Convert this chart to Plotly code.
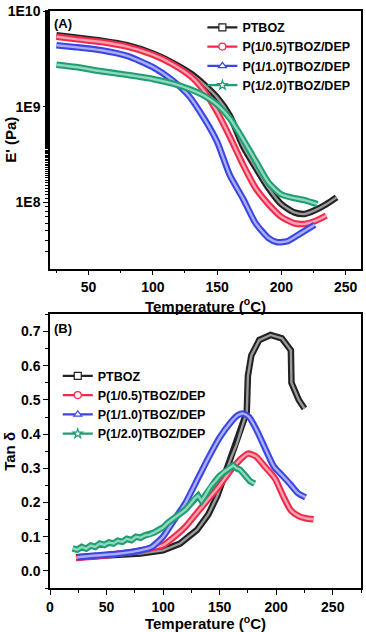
import plotly.graph_objects as go

# ---- data ----
names = ["PTBOZ", "P(1/0.5)TBOZ/DEP", "P(1/1.0)TBOZ/DEP", "P(1/2.0)TBOZ/DEP"]

# (A) storage modulus E' (Pa) vs temperature
a_t_ptboz = [25, 40, 60, 80, 100, 115, 130, 140, 150, 160, 170, 180, 190, 200, 210, 218, 226, 235, 243]
a_e_ptboz = [5.6e9, 5.3e9, 4.9e9, 4.4e9, 3.6e9, 2.9e9, 2.2e9, 1.7e9, 1.25e9, 8.0e8, 3.9e8, 2.3e8,
             1.4e8, 9.5e7, 7.8e7, 7.5e7, 8.2e7, 9.5e7, 1.12e8]
a_t_05 = [25, 40, 60, 80, 100, 115, 130, 140, 150, 160, 170, 180, 190, 200, 210, 218, 226, 235]
a_e_05 = [5.4e9, 5.1e9, 4.75e9, 4.25e9, 3.5e9, 2.8e9, 2.05e9, 1.45e9, 8.8e8, 4.8e8, 2.5e8, 1.4e8,
          9.5e7, 7.0e7, 6.0e7, 5.9e7, 6.3e7, 7.2e7]
a_t_10 = [25, 40, 60, 80, 100, 115, 128, 140, 150, 160, 170, 180, 190, 197, 205, 215, 226]
a_e_10 = [4.4e9, 4.2e9, 3.9e9, 3.4e9, 2.6e9, 1.9e9, 1.3e9, 7.5e8, 4.3e8, 1.9e8, 1.1e8, 6.0e7,
          4.2e7, 3.8e7, 3.9e7, 4.7e7, 5.8e7]
a_t_20 = [25, 40, 60, 80, 100, 115, 130, 140, 150, 160, 170, 180, 190, 200, 210, 218, 228]
a_e_20 = [2.75e9, 2.6e9, 2.35e9, 2.15e9, 1.95e9, 1.75e9, 1.5e9, 1.3e9, 1.05e9, 7.5e8, 4.6e8, 2.7e8,
          1.6e8, 1.2e8, 1.1e8, 1.05e8, 9.5e7]

# (B) tan delta vs temperature
b_t_ptboz = [23, 40, 60, 80, 100, 115, 130, 140, 148, 155, 160, 165, 170, 174, 175, 178, 185, 195,
             205, 211, 213, 213.5, 216, 220, 225]
b_v_ptboz = [0.040, 0.043, 0.047, 0.051, 0.060, 0.080, 0.120, 0.165, 0.220, 0.285, 0.330, 0.370,
             0.420, 0.465, 0.570, 0.630, 0.675, 0.690, 0.680, 0.655, 0.645, 0.550, 0.530, 0.500, 0.475]
b_t_05 = [23, 40, 60, 80, 100, 110, 120, 130, 140, 150, 160, 168, 175, 182, 190, 199, 206, 213, 220, 226, 233]
b_v_05 = [0.038, 0.042, 0.050, 0.060, 0.075, 0.100, 0.130, 0.170, 0.210, 0.250, 0.295, 0.325, 0.343,
          0.335, 0.305, 0.270, 0.220, 0.177, 0.160, 0.154, 0.151]
b_t_10 = [24, 40, 60, 80, 90, 100, 110, 120, 130, 140, 150, 160, 166, 171, 176, 183, 190, 198, 205, 212, 219, 226]
b_v_10 = [0.040, 0.045, 0.050, 0.060, 0.070, 0.100, 0.150, 0.200, 0.265, 0.330, 0.390, 0.435, 0.455,
          0.460, 0.450, 0.410, 0.360, 0.305, 0.280, 0.255, 0.228, 0.215]
b_t_20 = [20, 24, 28, 32, 36, 40, 44, 48, 52, 56, 60, 64, 68, 72, 76, 80, 84, 88, 92, 96, 100, 104,
          108, 112, 116, 120, 124, 128, 131, 134, 138, 142, 146, 150, 154, 158, 162, 165, 168, 171,
          174, 177, 181]
b_v_20 = [0.066, 0.062, 0.070, 0.065, 0.074, 0.070, 0.080, 0.076, 0.083, 0.080, 0.088, 0.085, 0.094,
          0.090, 0.100, 0.097, 0.104, 0.106, 0.112, 0.120, 0.127, 0.140, 0.150, 0.158, 0.170, 0.180,
          0.195, 0.212, 0.220, 0.205, 0.225, 0.248, 0.262, 0.278, 0.290, 0.300, 0.308, 0.300, 0.296,
          0.285, 0.274, 0.262, 0.255]

a_series = [(a_t_ptboz, a_e_ptboz), (a_t_05, a_e_05), (a_t_10, a_e_10), (a_t_20, a_e_20)]
b_series = [(b_t_ptboz, b_v_ptboz), (b_t_05, b_v_05), (b_t_10, b_v_10), (b_t_20, b_v_20)]

# (line colour, light band colour, legend symbol)
STYLE = [
    ("#222222", "#9a9a9a", "square"),
    ("#f2294a", "#f9a3b2", "circle"),
    ("#3b45e6", "#a9aef5", "triangle-up"),
    ("#1f9e72", "#8fd8bd", "star"),
]
FONT = "Liberation Sans, Arial, sans-serif"

fig = go.Figure()


def band(x, y, i, xa, ya, shape):
    col, light, _ = STYLE[i]
    # thick outline + lighter core, mimicking the dense open-marker bands
    fig.add_trace(go.Scatter(x=x, y=y, mode="lines", xaxis=xa, yaxis=ya, showlegend=False,
                             line=dict(color=col, width=6.5, shape=shape, smoothing=0.6), hoverinfo="skip"))
    fig.add_trace(go.Scatter(x=x, y=y, mode="lines", xaxis=xa, yaxis=ya, showlegend=False,
                             line=dict(color=light, width=2.4, shape=shape, smoothing=0.6),
                             name=names[i]))


for i, (x, y) in enumerate(a_series):
    band(x, y, i, "x", "y", "spline")
for i, (x, y) in enumerate(b_series):
    band(x, y, i, "x2", "y2", "linear" if i in (0, 3) else "spline")

# legend-only entries for both panels
for leg, xa, ya in (("legend", "x", "y"), ("legend2", "x2", "y2")):
    for i, nm in enumerate(names):
        col, _, sym = STYLE[i]
        fig.add_trace(go.Scatter(x=[None], y=[None], mode="lines+markers", name=nm, legend=leg,
                                 xaxis=xa, yaxis=ya,
                                 line=dict(color=col, width=2.2),
                                 marker=dict(symbol=sym, size=7, color="white",
                                             line=dict(color=col, width=1.2))))

axis_common = dict(showline=True, linecolor="black", linewidth=1.5, mirror=True,
                   ticks="outside", ticklen=5, tickwidth=1.3, tickcolor="black",
                   showgrid=False, zeroline=False,
                   tickfont=dict(size=14, family=FONT, color="black", weight="bold"))
leg_font = dict(size=12.5, family=FONT, color="black", weight="bold")
title_font = dict(size=15, family=FONT, color="black", weight="bold")

fig.update_layout(
    width=366, height=632,
    margin=dict(l=50, r=3, t=8, b=44),
    paper_bgcolor="white", plot_bgcolor="white",
    font=dict(family=FONT, color="black", weight="bold"),
    xaxis=dict(domain=[0, 1], anchor="y", range=[20, 262], tickvals=[50, 100, 150, 200, 250],
               minor=dict(ticks="outside", ticklen=3, dtick=25, tick0=0, tickcolor="black"),
               title=dict(text="Temperature (<sup>o</sup>C)", standoff=2, font=title_font),
               **axis_common),
    yaxis=dict(domain=[0.5534, 1.0], anchor="x", type="log", range=[7.302, 10.002],
               tickvals=[1e8, 1e9, 1e10], ticktext=["1E8", "1E9", "1E10"],
               minor=dict(ticks="outside", ticklen=3, tickcolor="black"),
               **axis_common),
    xaxis2=dict(domain=[0, 1], anchor="y2", range=[0, 275], dtick=50, tick0=0,
                minor=dict(ticks="outside", ticklen=3, dtick=25, tick0=0, tickcolor="black"),
                title=dict(text="Temperature (<sup>o</sup>C)", standoff=2, font=title_font),
                **axis_common),
    yaxis2=dict(domain=[0, 0.4741], anchor="x2", range=[-0.05, 0.75], dtick=0.1, tick0=0,
                tickformat=".1f",
                minor=dict(ticks="outside", ticklen=3, dtick=0.05, tick0=0, tickcolor="black"),
                **axis_common),
    legend=dict(x=0.49, y=0.997, xanchor="left", yanchor="top", bgcolor="rgba(0,0,0,0)",
                font=leg_font, itemwidth=30, tracegroupgap=0),
    legend2=dict(x=0.025, y=0.393, xanchor="left", yanchor="top", bgcolor="rgba(0,0,0,0)",
                 font=leg_font, itemwidth=30, tracegroupgap=0),
    annotations=[
        dict(text="(A)", xref="paper", yref="paper", x=0.006, y=0.995, xanchor="left", yanchor="top",
             showarrow=False, font=dict(size=13, family=FONT, weight="bold")),
        dict(text="(B)", xref="paper", yref="paper", x=0.006, y=0.466, xanchor="left", yanchor="top",
             showarrow=False, font=dict(size=13, family=FONT, weight="bold")),
        dict(text="E' (Pa)", xref="paper", yref="paper", x=-0.125, y=0.777, textangle=-90,
             xanchor="center", yanchor="middle", showarrow=False, font=title_font),
        dict(text="Tan δ", xref="paper", yref="paper", x=-0.13, y=0.237, textangle=-90,
             xanchor="center", yanchor="middle", showarrow=False, font=title_font),
    ],
)

# drop the browser's default 8px body margin so the figure sits at the page corner
fig.write_html("out.html", config={"displayModeBar": False},
               post_script="document.body.style.margin='0';")
